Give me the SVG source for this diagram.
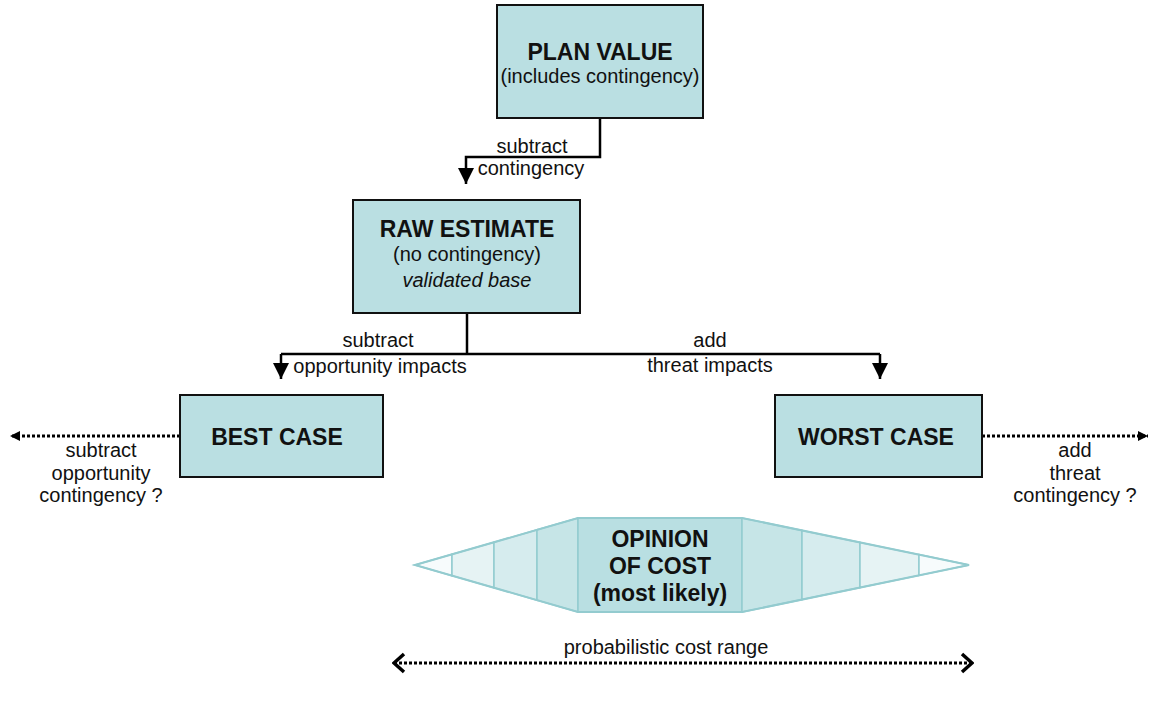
<svg xmlns="http://www.w3.org/2000/svg" width="1158" height="706" viewBox="0 0 1158 706">
<defs>
<style>
.box{fill:#badfe2;stroke:#111;stroke-width:2}
.t{font-family:"Liberation Sans",Arial,sans-serif;fill:#111;text-anchor:middle}
.title{font-size:23px;font-weight:bold}
.sub{font-size:20px}
.lbl{font-size:20px}
.conn{fill:none;stroke:#000;stroke-width:2.5}
.dot{fill:none;stroke:#000;stroke-width:3;stroke-dasharray:3 2}
.seg{stroke:#93cbcf;stroke-width:1.5}
</style>
<marker id="ah" viewBox="0 0 16 16" refX="16" refY="8" markerWidth="16" markerHeight="16" markerUnits="userSpaceOnUse" orient="auto">
<path d="M0,0 L16,8 L0,16 Z" fill="#000"/>
</marker>
<marker id="sh" viewBox="0 0 10 10" refX="10" refY="5" markerWidth="10" markerHeight="10" markerUnits="userSpaceOnUse" orient="auto">
<path d="M0,0 L10,5 L0,10 Z" fill="#000"/>
</marker>
<marker id="chev" viewBox="0 0 14 22" refX="12" refY="11" markerWidth="14" markerHeight="22" markerUnits="userSpaceOnUse" orient="auto-start-reverse">
<path d="M2,2 L12,11 L2,20" fill="none" stroke="#000" stroke-width="3.5"/>
</marker>
</defs>
<rect width="1158" height="706" fill="#fff"/>

<g id="connectors">
<path class="conn" d="M600,118 V157 H466 V184" marker-end="url(#ah)"/>
<path class="conn" d="M467,313 V354"/>
<path class="conn" d="M281,354 H880"/>
<path class="conn" d="M281,354 V379" marker-end="url(#ah)"/>
<path class="conn" d="M880,354 V379" marker-end="url(#ah)"/>
<line class="dot" x1="180" y1="436" x2="10" y2="436" marker-end="url(#sh)"/>
<line class="dot" x1="982" y1="436" x2="1148" y2="436" marker-end="url(#sh)"/>
<line class="dot" x1="394" y1="663" x2="972" y2="663" marker-start="url(#chev)" marker-end="url(#chev)"/>
<text class="t lbl" x="532" y="153">subtract</text>
<text class="t lbl" x="531" y="175">contingency</text>
<text class="t lbl" x="378" y="347">subtract</text>
<text class="t lbl" x="380" y="373">opportunity impacts</text>
<text class="t lbl" x="710" y="347">add</text>
<text class="t lbl" x="710" y="372">threat impacts</text>
<text class="t lbl" x="101" y="457">subtract</text>
<text class="t lbl" x="101" y="480">opportunity</text>
<text class="t lbl" x="101" y="502">contingency ?</text>
<text class="t lbl" x="1075" y="457">add</text>
<text class="t lbl" x="1075" y="480">threat</text>
<text class="t lbl" x="1075" y="502">contingency ?</text>
<text class="t lbl" x="666" y="654">probabilistic cost range</text>
</g>

<g id="plan-value">
<rect class="box" x="497" y="5" width="206" height="113"/>
<text class="t title" x="600" y="60">PLAN VALUE</text>
<text class="t sub" x="600" y="83">(includes contingency)</text>
</g>

<g id="raw-estimate">
<rect class="box" x="353" y="200" width="227" height="113"/>
<text class="t title" x="467" y="237">RAW ESTIMATE</text>
<text class="t sub" x="467" y="261">(no contingency)</text>
<text class="t sub" x="467" y="287" font-style="italic">validated base</text>
</g>

<g id="best-case">
<rect class="box" x="180" y="395" width="203" height="82"/>
<text class="t title" x="277" y="445">BEST CASE</text>
</g>

<g id="worst-case">
<rect class="box" x="775" y="395" width="207" height="82"/>
<text class="t title" x="876" y="445">WORST CASE</text>
</g>

<g id="opinion-of-cost">
<polygon class="seg" fill="#f7fbfc" points="415,565 452,554.3 452,575.7"/>
<polygon class="seg" fill="#e6f3f4" points="452,554.3 494,542.2 494,587.8 452,575.7"/>
<polygon class="seg" fill="#d6ecee" points="494,542.2 537,529.8 537,600.2 494,587.8"/>
<polygon class="seg" fill="#c6e5e7" points="537,529.8 578,518 578,612 537,600.2"/>
<polygon class="seg" fill="#b9dfe2" points="578,518 742,518 742,612 578,612"/>
<polygon class="seg" fill="#c6e5e7" points="742,518 802,530.4 802,599.6 742,612"/>
<polygon class="seg" fill="#d6ecee" points="802,530.4 860,542.4 860,587.6 802,599.6"/>
<polygon class="seg" fill="#e6f3f4" points="860,542.4 919,554.6 919,575.4 860,587.6"/>
<polygon class="seg" fill="#f7fbfc" points="919,554.6 969,565 919,575.4"/>
<polygon fill="none" stroke="#93cbcf" stroke-width="2" points="415,565 578,518 742,518 969,565 742,612 578,612"/>
<text class="t title" x="660" y="547">OPINION</text>
<text class="t title" x="660" y="574">OF COST</text>
<text class="t title" x="660" y="601">(most likely)</text>
</g>
</svg>
